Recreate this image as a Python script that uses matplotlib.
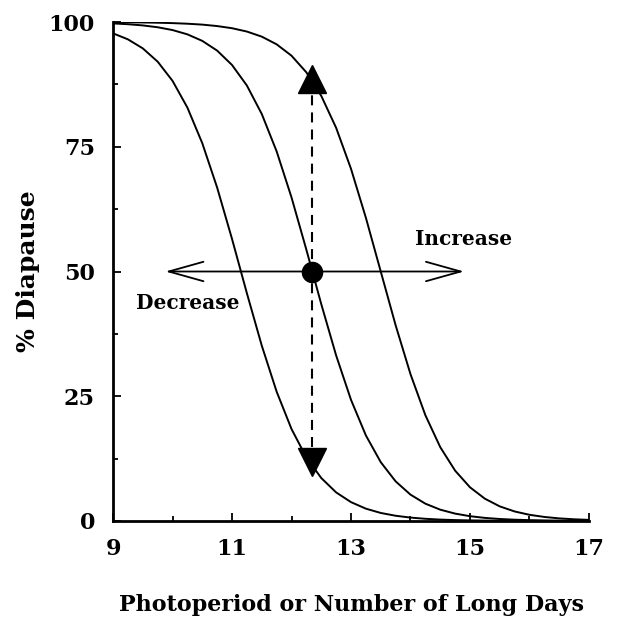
import numpy as np
import matplotlib.pyplot as plt
from matplotlib.ticker import MultipleLocator

# photoperiod (x) grid read at quarter-day steps
days = [9, 9.25, 9.5, 9.75, 10, 10.25, 10.5, 10.75, 11, 11.25, 11.5, 11.75,
        12, 12.25, 12.5, 12.75, 13, 13.25, 13.5, 13.75, 14, 14.25, 14.5, 14.75,
        15, 15.25, 15.5, 15.75, 16, 16.25, 16.5, 16.75, 17]

# % diapause for the three response curves (left, middle, right)
left = [97.73, 96.53, 94.72, 92.06, 88.21, 82.85, 75.72, 66.82, 56.53, 45.64,
        35.15, 25.92, 18.43, 12.73, 8.61, 5.73, 3.78, 2.47, 1.61, 1.05, 0.68,
        0.44, 0.28, 0.18, 0.12, 0.08, 0.05, 0.03, 0.02, 0.01, 0.01, 0.0, 0.0]
middle = [99.72, 99.56, 99.32, 98.95, 98.39, 97.53, 96.22, 94.27, 91.39, 87.27,
          81.57, 74.08, 64.85, 54.36, 43.47, 33.18, 24.28, 17.15, 11.79, 7.94,
          5.28, 3.47, 2.27, 1.48, 0.96, 0.62, 0.40, 0.26, 0.17, 0.11, 0.07,
          0.05, 0.03]
right = [99.96, 99.94, 99.91, 99.86, 99.78, 99.66, 99.48, 99.19, 98.76, 98.09,
         97.07, 95.53, 93.25, 89.91, 85.20, 78.80, 70.58, 60.77, 50.0, 39.23,
         29.42, 21.20, 14.80, 10.09, 6.75, 4.47, 2.93, 1.91, 1.24, 0.81, 0.52,
         0.34, 0.22]

# reference point and arrow ends
pt_x, pt_y = 12.35, 50
up_y, down_y = 88.6, 11.9
arrow_left, arrow_right = 9.88, 14.9

xticks = [9, 11, 13, 15, 17]
yticks = [0, 25, 50, 75, 100]

plt.rcParams['font.family'] = ['DejaVu Serif']
plt.rcParams['font.weight'] = 'bold'

fig = plt.figure(figsize=(6.19, 6.22), dpi=100)
ax = fig.add_axes([0.1826, 0.1624, 0.7689, 0.8022])

for ys in (left, middle, right):
    ax.plot(days, ys, color='k', lw=1.4, solid_capstyle='butt')

# dashed vertical shift
ax.plot([pt_x, pt_x], [down_y + 3, up_y - 3], color='k', lw=1.5,
        linestyle=(0, (4.8, 3.4)))
ax.plot([pt_x], [up_y], marker='^', ms=20, color='k')
ax.plot([pt_x], [down_y], marker='v', ms=20, color='k')

# horizontal arrows
arrow_kw = dict(arrowstyle='->,head_length=1.25,head_width=0.35',
                mutation_scale=20, lw=1.3, color='k', shrinkA=0, shrinkB=0)
ax.annotate('', xy=(arrow_left, pt_y), xytext=(pt_x, pt_y), arrowprops=arrow_kw)
ax.annotate('', xy=(arrow_right, pt_y), xytext=(pt_x, pt_y), arrowprops=arrow_kw)
ax.plot([pt_x], [pt_y], marker='o', ms=14.5, color='k', zorder=5)

ax.text(14.9, 56.5, 'Increase', ha='center', va='center', fontsize=14.5,
        fontweight='bold')
ax.text(10.25, 43.7, 'Decrease', ha='center', va='center', fontsize=14.5,
        fontweight='bold')

ax.set_xlim(9, 17)
ax.set_ylim(0, 100)
ax.set_xticks(xticks)
ax.set_yticks(yticks)
ax.xaxis.set_minor_locator(MultipleLocator(1))
ax.yaxis.set_minor_locator(MultipleLocator(12.5))
ax.tick_params(which='both', direction='in', width=1.3, labelsize=16)
ax.tick_params(which='major', length=6)
ax.tick_params(which='minor', length=3.5)
ax.tick_params(axis='x', pad=12)
ax.tick_params(axis='y', pad=13)
for lab in ax.get_xticklabels() + ax.get_yticklabels():
    lab.set_fontweight('bold')

for s in ['top', 'right']:
    ax.spines[s].set_visible(False)
for s in ['left', 'bottom']:
    ax.spines[s].set_linewidth(2)

ax.set_xlabel('Photoperiod or Number of Long Days', fontsize=16,
              fontweight='bold', labelpad=25)
ax.set_ylabel('% Diapause', fontsize=18, fontweight='bold', labelpad=6)

fig.savefig('out.png', dpi=100)
